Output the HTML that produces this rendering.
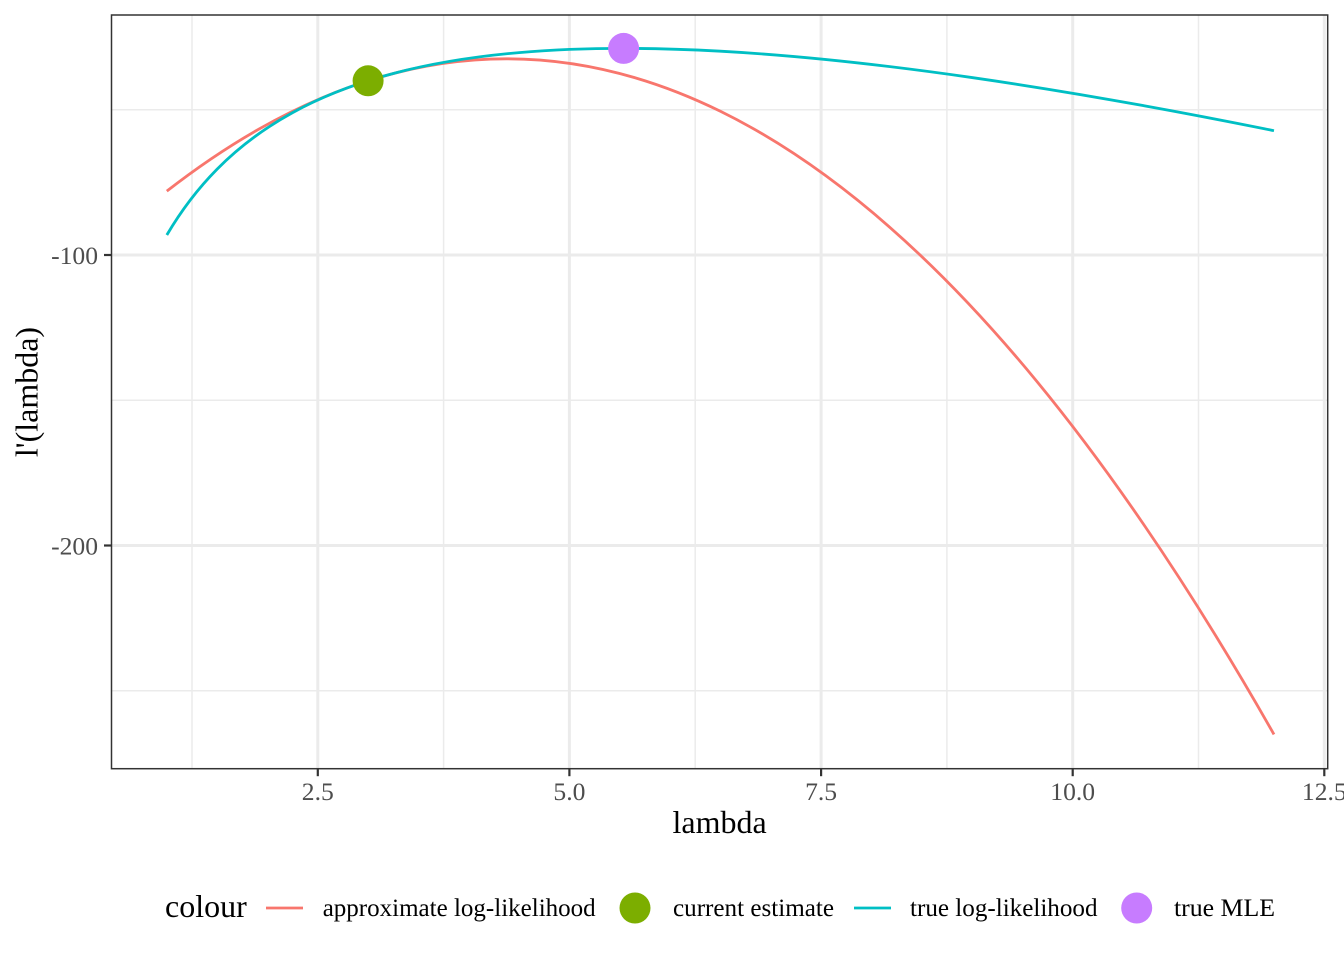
<!DOCTYPE html>
<html>
<head>
<meta charset="utf-8">
<style>
  html, body { margin: 0; padding: 0; background: #ffffff; }
  svg { display: block; }
  text { font-family: "Liberation Serif", "Times New Roman", serif; }
</style>
</head>
<body>
<svg width="1344" height="960" viewBox="0 0 1344 960" xmlns="http://www.w3.org/2000/svg">
  <rect x="0" y="0" width="1344" height="960" fill="#ffffff"/>

  <!-- minor grid -->
  <g stroke="#EBEBEB" stroke-width="1.5" fill="none">
    <line x1="111.5" y1="109.75" x2="1327.7" y2="109.75"/>
    <line x1="111.5" y1="400.25" x2="1327.7" y2="400.25"/>
    <line x1="111.5" y1="690.75" x2="1327.7" y2="690.75"/>
    <line x1="192" y1="15" x2="192" y2="768.7"/>
    <line x1="443.6" y1="15" x2="443.6" y2="768.7"/>
    <line x1="695.2" y1="15" x2="695.2" y2="768.7"/>
    <line x1="946.9" y1="15" x2="946.9" y2="768.7"/>
    <line x1="1198.5" y1="15" x2="1198.5" y2="768.7"/>
  </g>
  <!-- major grid -->
  <g stroke="#EBEBEB" stroke-width="3" fill="none">
    <line x1="111.5" y1="255" x2="1327.7" y2="255"/>
    <line x1="111.5" y1="545.5" x2="1327.7" y2="545.5"/>
    <line x1="317.8" y1="15" x2="317.8" y2="768.7"/>
    <line x1="569.4" y1="15" x2="569.4" y2="768.7"/>
    <line x1="821.1" y1="15" x2="821.1" y2="768.7"/>
    <line x1="1072.7" y1="15" x2="1072.7" y2="768.7"/>
    <line x1="1324.3" y1="15" x2="1324.3" y2="768.7"/>
  </g>

  <!-- approximate log-likelihood (exact parabola as quadratic Bezier) -->
  <path d="M166.8,191.15 Q720.4,-240.24 1273.98,734.38" fill="none" stroke="#F8766D" stroke-width="2.8"/>

  <!-- true log-likelihood -->
  <path d="M166.825,235.01
           C183.60,206.44 200.375,186.04 217.15,169.09
           C242.31,143.67 267.48,126.41 292.64,112.61
           C326.19,94.21 359.74,82.32 393.29,73.46
           C435.23,62.38 477.16,56.23 519.10,52.60
           C586.2,46.79 653.3,47.49 720.40,51.21
           C804.275,55.87 888.155,65.46 972.03,77.56
           C1072.68,92.09 1173.33,110.35 1273.98,130.69"
        fill="none" stroke="#00BFC4" stroke-width="2.8"/>

  <!-- points -->
  <circle cx="368.1" cy="80.8" r="15.5" fill="#7CAE00"/>
  <circle cx="623.6" cy="48.4" r="15.5" fill="#C77CFF"/>

  <!-- panel border -->
  <rect x="111.5" y="15" width="1216.2" height="753.7" fill="none" stroke="#333333" stroke-width="1.5"/>

  <!-- ticks -->
  <g stroke="#333333" stroke-width="2.2">
    <line x1="104" y1="255" x2="111.5" y2="255"/>
    <line x1="104" y1="545.5" x2="111.5" y2="545.5"/>
    <line x1="317.8" y1="768.7" x2="317.8" y2="776.2"/>
    <line x1="569.4" y1="768.7" x2="569.4" y2="776.2"/>
    <line x1="821.1" y1="768.7" x2="821.1" y2="776.2"/>
    <line x1="1072.7" y1="768.7" x2="1072.7" y2="776.2"/>
    <line x1="1324.3" y1="768.7" x2="1324.3" y2="776.2"/>
  </g>

  <!-- tick labels -->
  <g fill="#4D4D4D" font-size="25.6">
    <text x="98" y="264" text-anchor="end">-100</text>
    <text x="98" y="554.5" text-anchor="end">-200</text>
    <text x="317.8" y="800" text-anchor="middle">2.5</text>
    <text x="569.4" y="800" text-anchor="middle">5.0</text>
    <text x="821.1" y="800" text-anchor="middle">7.5</text>
    <text x="1072.7" y="800" text-anchor="middle">10.0</text>
    <text x="1324.3" y="800" text-anchor="middle">12.5</text>
  </g>

  <!-- axis titles -->
  <text x="719.6" y="833" text-anchor="middle" font-size="32" fill="#000000">lambda</text>
  <text transform="translate(37.5,392) rotate(-90)" text-anchor="middle" font-size="32" fill="#000000">l'(lambda)</text>

  <!-- legend -->
  <text x="165" y="917" font-size="32" fill="#000000">colour</text>
  <line x1="266" y1="908" x2="303" y2="908" stroke="#F8766D" stroke-width="2.8"/>
  <text x="322.7" y="916" font-size="25.2" fill="#000000" textLength="273" lengthAdjust="spacingAndGlyphs">approximate log-likelihood</text>
  <circle cx="635" cy="908" r="15.5" fill="#7CAE00"/>
  <text x="673" y="916" font-size="25.2" fill="#000000" textLength="161" lengthAdjust="spacingAndGlyphs">current estimate</text>
  <line x1="854" y1="908" x2="891" y2="908" stroke="#00BFC4" stroke-width="2.8"/>
  <text x="910" y="916" font-size="25.2" fill="#000000" textLength="187.5" lengthAdjust="spacingAndGlyphs">true log-likelihood</text>
  <circle cx="1136.7" cy="908" r="15.5" fill="#C77CFF"/>
  <text x="1174" y="916" font-size="25.2" fill="#000000" textLength="101" lengthAdjust="spacingAndGlyphs">true MLE</text>
</svg>
</body>
</html>
